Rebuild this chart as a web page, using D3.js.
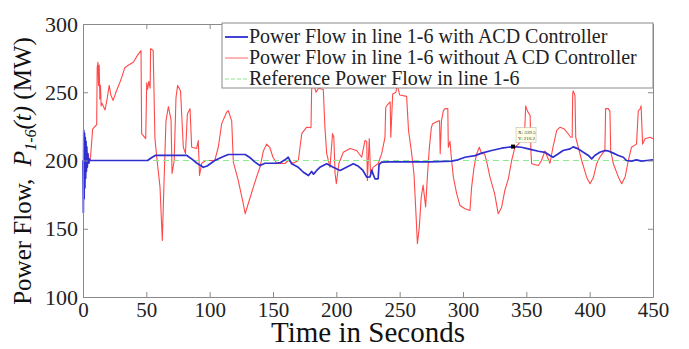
<!DOCTYPE html>
<html>
<head>
<meta charset="utf-8">
<script src="https://cdn.jsdelivr.net/npm/d3@7"></script>
<style>
  body { margin: 0; background: #fff; }
  svg { display: block; font-family: "Liberation Serif", "Times New Roman", serif; }
</style>
</head>
<body>
<svg id="chart" width="689" height="349"></svg>
<script>
// time (s) and power flow (MW)
const tWith = [0,0.3,0.6,0.9,1.2,1.5,1.8,2.1,2.4,2.7,3,3.4,3.8,4.3,5,6,51,54,57,82,86,90,95,98,104,109.5,114.7,128,132,135.8,139.7,143.7,152,156,159.5,162,164.7,170,174,178,180.5,182,184.5,187,192.4,197.6,203,208,213.4,217,221,224,226.6,228,229,230.5,233,233.7,235.8,242,274,291,296,301.6,309.5,314.7,322.6,330.5,339.5,346,351.6,359.5,364.7,368.7,371,375.3,379,384.5,387,391,395,399,401.6,404,408,412,414.7,418.7,422.6,426.6,429,433,437,441,445,450];
const pWith = [200,162,222,172,220,180,217,187,214,192,210,195,205,198,201,200,200,202,203.7,203.7,201,198,195,196,200,202.4,204.4,204.4,202,198.8,196.3,198,198,198.5,200.5,202.4,197.6,195,191.4,189,192,190,192.7,195,197.6,195,192.7,195,197.6,196,192.7,187.8,188,193,190,186.6,186.6,197,198.8,199,199,199.5,200.5,202.4,203.6,205.4,207.3,209,210.2,209.7,208.5,206.8,206,203.7,202.4,205,207.3,208.5,210,208.5,206,203.7,201.2,203.7,206,207.3,207,205.4,203.7,202.4,200,199.5,200.5,199.5,200,200.5];

const tWithout = [0,2,3,4,5,6,7.6,10,10.8,11.2,11.8,12.3,12.8,13.3,13.8,14.3,15,17.4,19,20.7,22,23.8,26,29,31,33,36,39.7,43,45.8,46.3,49.5,50.3,51,52,53,53.4,55.4,56.8,58.5,60.8,62.6,64,65.5,67.4,69.5,70.3,72,73.4,74.7,77,79.2,80.9,82.4,84.5,85.8,89.7,91,92,93.7,97,104,106.8,109.5,113.4,114.7,117.4,118.7,122.6,126.6,128,130.5,134.5,137,140,142.4,145,147.4,150,153,159.5,162,166,170,172.7,176.6,180,180.5,182,184,186,189.7,191,192.4,195,197,198,199,200,202,205.5,210.8,216,220,222.6,224,224.5,226,227,229,233,235.8,238.4,239,241,242.5,243,244.5,247,248,250,255.5,257,259.5,261.3,263.4,264,265.5,267,268.5,270.5,272,273.5,275,276,280.5,281.5,282,283,284.5,285.8,288,288.4,289.7,291,292.4,295,297.6,301.6,305.5,306.8,308.7,310.8,312.9,314.7,317,318.5,321.3,325,327.8,330.5,333,335.8,338.4,341,343.7,346,348.5,349.5,351,353,353.7,354.2,359.5,362,364.7,368.7,371,374,376.6,380,383,385,386.2,386.6,387,388.4,389,391,393.7,397.6,400.3,403,405.5,408,410.8,412,412.6,414.7,416,416.6,418.7,422.7,425.3,428,430.5,433,437,438.4,440,440.6,441.8,443.7,447.6,450];
const pWithout = [200,200,196,205,198,203,223,225.6,226,268,272,255,270,245,255,240,242,237,245,255,248,244,250,257,262,268,270,272,277,280.6,219.7,216,257,252,258,253,282,280.6,216,200,180.5,141.4,185,229,239.5,230,190.5,200,246,255,251,209.7,205,234,238,209.7,208.8,214.6,189,198,200,200,209.7,227,235.4,236.6,229,198.8,185.3,168,161,168.5,180.5,187.8,196,207,212,209.7,202.4,197.8,197.8,200,198,200,219.7,224.4,224,252,256,250,253,252,224,205,195,219.7,217,190.5,183,197.8,206,208.8,207.3,202.4,214.6,214,185.3,216,190,195,197.8,205,217,239,241.5,243,217,248.8,250,256,248,247,222,205,190,151,139,151,173,182,166,190,210,224,227,229,229,205,229,236.6,238,238,209.7,214,200,187.8,175.7,167,164.6,163.4,180.5,195,205,209.7,205,205,200,187.8,175.6,161,165.8,178,186.6,200,209.7,212,215,218,240,236,233,205,197.6,196.3,200,207,198,209.7,222,224.4,223,219.6,217,217,248.8,251,247.6,217,209.7,200,187.8,183,187.8,197.6,202.4,206,207,238,238,236,207.3,197.6,187.8,183,188,200,209.7,212,236.6,238,240,212,216,217,216];

const refValue = 200;
const dataTip = { t: 339.5, p: 210.2 };

const xTicks = [0, 50, 100, 150, 200, 250, 300, 350, 400, 450];
const yTicks = [100, 150, 200, 250, 300];

const legendLabels = [
  "Power Flow in line 1-6 with ACD Controller",
  "Power Flow in line 1-6 without A CD Controller",
  "Reference Power Flow in line 1-6"
];

const width = 689, height = 349;
const margin = { top: 24, right: 36, bottom: 52, left: 83 };
const svg = d3.select("#chart");

const x = d3.scaleLinear().domain([0, 450]).range([margin.left, width - margin.right]);
const y = d3.scaleLinear().domain([100, 300]).range([height - margin.bottom, margin.top]);

const axisColor = "#8a8a8a";

// series
const line = d3.line().x(d => x(d[0])).y(d => y(d[1]));

svg.append("path")
    .datum(d3.zip(tWithout, pWithout))
    .attr("d", line)
    .attr("fill", "none")
    .attr("stroke", "#ff4a4a")
    .attr("stroke-width", 1.1)
    .attr("stroke-linejoin", "round");

svg.append("line")
    .attr("x1", x(0)).attr("x2", x(450))
    .attr("y1", y(refValue)).attr("y2", y(refValue))
    .attr("stroke", "#8ee88e")
    .attr("stroke-width", 1.2)
    .attr("stroke-dasharray", "6,4");

svg.append("path")
    .datum(d3.zip(tWith, pWith))
    .attr("d", line)
    .attr("fill", "none")
    .attr("stroke", "#2f2fd0")
    .attr("stroke-width", 1.7)
    .attr("stroke-linejoin", "round");

// data tip
const tip = svg.append("g")
    .attr("transform", `translate(${x(dataTip.t)},${y(dataTip.p)})`);
tip.append("rect").attr("x", -2).attr("y", -2).attr("width", 4).attr("height", 4).attr("fill", "#000");
tip.append("rect").attr("x", 3).attr("y", -19).attr("width", 20).attr("height", 15)
    .attr("fill", "#ffffe6").attr("stroke", "#b0b0b0").attr("stroke-width", 0.5);
tip.append("text").attr("x", 5).attr("y", -13).attr("font-size", 5).attr("fill", "#333").text(`X: ${dataTip.t}`);
tip.append("text").attr("x", 5).attr("y", -7).attr("font-size", 5).attr("fill", "#333").text(`Y: ${dataTip.p}`);

// axes box with inward ticks
const axisStyle = g => {
  g.select(".domain").attr("stroke", axisColor);
  g.selectAll(".tick line").attr("stroke", axisColor);
};

svg.append("g")
    .attr("transform", `translate(0,${y(100)})`)
    .call(d3.axisBottom(x).tickValues(xTicks).tickSizeInner(-5).tickSizeOuter(0).tickPadding(5))
    .call(axisStyle)
    .call(g => g.selectAll(".tick text")
        .attr("font-size", 21).attr("font-family", "Liberation Serif").attr("fill", "#222"));

svg.append("g")
    .attr("transform", `translate(0,${y(300)})`)
    .call(d3.axisTop(x).tickValues(xTicks).tickSizeInner(-5).tickSizeOuter(0).tickFormat(""))
    .call(axisStyle);

svg.append("g")
    .attr("transform", `translate(${x(0)},0)`)
    .call(d3.axisLeft(y).tickValues(yTicks).tickSizeInner(-5).tickSizeOuter(0).tickPadding(5))
    .call(axisStyle)
    .call(g => g.selectAll(".tick text")
        .attr("font-size", 22).attr("font-family", "Liberation Serif").attr("fill", "#222"));

svg.append("g")
    .attr("transform", `translate(${x(450)},0)`)
    .call(d3.axisRight(y).tickValues(yTicks).tickSizeInner(-5).tickSizeOuter(0).tickFormat(""))
    .call(axisStyle);

// legend
const legend = svg.append("g").attr("transform", `translate(${222},${y(300) - 1})`);
legend.append("rect")
    .attr("width", x(450) - 222).attr("height", 65)
    .attr("fill", "#fff").attr("stroke", axisColor).attr("stroke-width", 1);
const legendStyles = [
  { stroke: "#2f2fd0", dash: null, w: 1.8 },
  { stroke: "#ff6a6a", dash: null, w: 1 },
  { stroke: "#8ee88e", dash: "4,2", w: 1.2 }
];
legendLabels.forEach((label, i) => {
  const cy = 14 + i * 21;
  legend.append("line")
      .attr("x1", 3).attr("x2", 26).attr("y1", cy).attr("y2", cy)
      .attr("stroke", legendStyles[i].stroke)
      .attr("stroke-width", legendStyles[i].w)
      .attr("stroke-dasharray", legendStyles[i].dash);
  legend.append("text")
      .attr("x", 27).attr("y", cy + 6)
      .attr("font-size", 20).attr("fill", "#222")
      .text(label);
});

// axis titles
svg.append("text")
    .attr("x", (x(0) + x(450)) / 2).attr("y", 342)
    .attr("text-anchor", "middle")
    .attr("font-size", 29).attr("fill", "#111")
    .text("Time in Seconds");

const yTitle = svg.append("text")
    .attr("transform", `translate(31,${171}) rotate(-90)`)
    .attr("text-anchor", "middle")
    .attr("font-size", 25).attr("fill", "#111");
yTitle.append("tspan").text("Power Flow,\u00a0\u00a0");
yTitle.append("tspan").attr("font-style", "italic").text("P");
yTitle.append("tspan").attr("font-style", "italic").attr("font-size", 16).attr("dy", 5).text("1-6");
yTitle.append("tspan").attr("font-style", "italic").attr("dy", -5).text("(t)");
yTitle.append("tspan").text(" (MW)");
</script>
</body>
</html>
